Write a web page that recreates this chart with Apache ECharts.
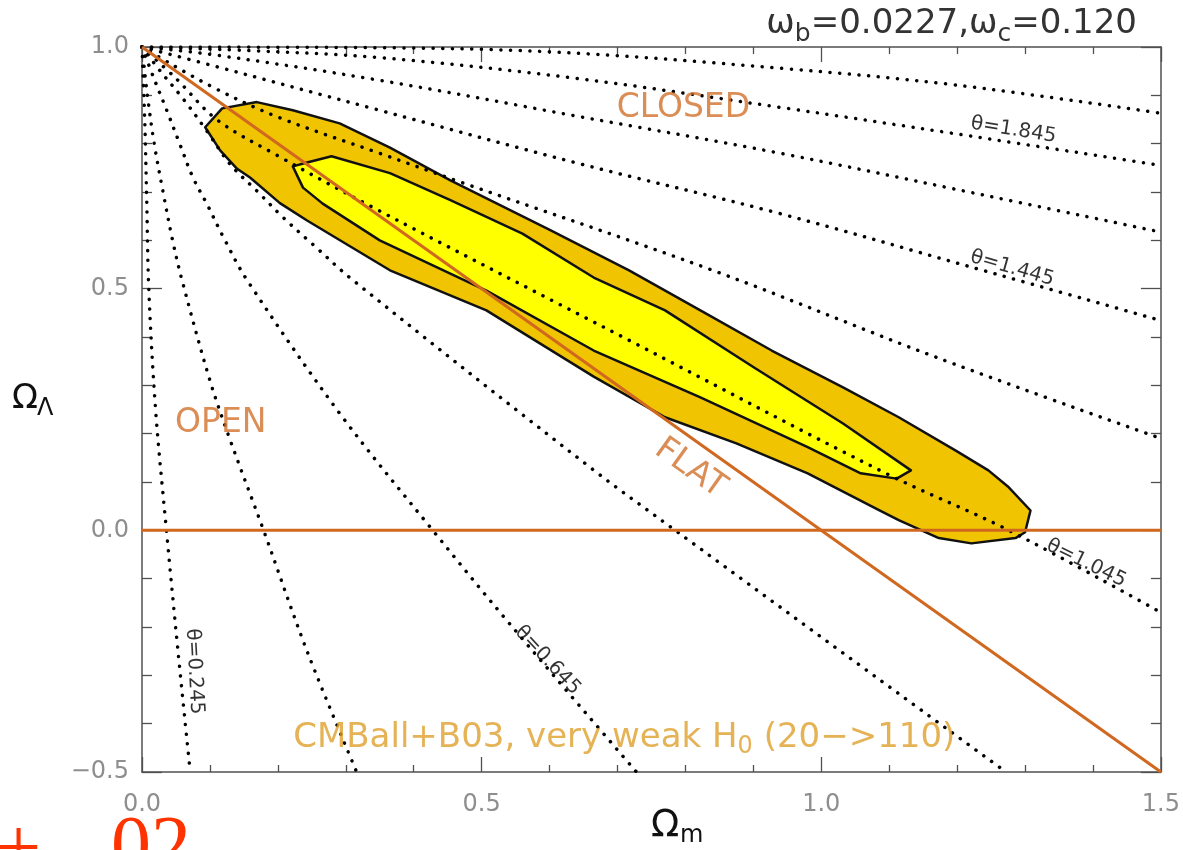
<!DOCTYPE html>
<html>
<head>
<meta charset="utf-8">
<title>Omega_m - Omega_Lambda constraints</title>
<script src="https://cdn.jsdelivr.net/npm/echarts@6/dist/echarts.min.js"></script>
<style>
  html, body { margin: 0; padding: 0; background: #ffffff; }
  #chart { width: 1183px; height: 850px; }
</style>
</head>
<body>
<div id="chart"></div>
<script>
// ---- axis ranges and tick labels ----
const xRange = [0, 1.5];
const yRange = [-0.5, 1.0];
const majorStep = 0.5;
const xTickLabels = ['0.0', '0.5', '1.0', '1.5'];
const yTickLabels = ['\u22120.5', '0.0', '0.5', '1.0'];

// ---- likelihood contours (Omega_m, Omega_Lambda) ----
const outerContour = [
  [0.093, 0.834], [0.118, 0.873], [0.169, 0.886], [0.222, 0.869], [0.291, 0.842],
  [0.365, 0.792], [0.454, 0.724], [0.601, 0.621], [0.717, 0.538], [0.822, 0.455],
  [0.927, 0.372], [1.032, 0.296], [1.114, 0.234], [1.198, 0.165], [1.246, 0.124],
  [1.276, 0.089], [1.308, 0.041], [1.300, -0.004], [1.286, -0.016], [1.221, -0.027],
  [1.173, -0.016], [1.114, 0.021], [1.085, 0.042], [0.980, 0.118], [0.875, 0.180],
  [0.770, 0.234], [0.665, 0.318], [0.507, 0.455], [0.365, 0.538], [0.243, 0.641],
  [0.203, 0.677], [0.159, 0.730], [0.140, 0.748], [0.115, 0.786]
];
const innerContour = [
  [0.222, 0.753], [0.243, 0.761], [0.279, 0.774], [0.365, 0.739], [0.454, 0.683],
  [0.560, 0.614], [0.665, 0.523], [0.770, 0.455], [0.901, 0.337], [1.032, 0.221],
  [1.132, 0.124], [1.111, 0.107], [1.058, 0.118], [0.980, 0.172], [0.822, 0.275],
  [0.665, 0.372], [0.507, 0.496], [0.350, 0.600], [0.266, 0.676], [0.237, 0.709]
];

// ---- curves of constant acoustic angle theta ----
const theta0245 = [[0, 1], [0.004, 0.85], [0.007, 0.68], [0.010, 0.5], [0.020, 0.25], [0.036, 0], [0.053, -0.25], [0.071, -0.5]];
const theta0445 = [[0, 1], [0.008, 0.9], [0.018, 0.8], [0.031, 0.7], [0.045, 0.6], [0.059, 0.517], [0.100, 0.31], [0.130, 0.186], [0.179, 0], [0.243, -0.25], [0.316, -0.5]];
const theta0645 = [[0, 1], [0.017, 0.937], [0.037, 0.867], [0.056, 0.798], [0.075, 0.73], [0.096, 0.674], [0.120, 0.606], [0.155, 0.517], [0.291, 0.242], [0.428, 0], [0.541, -0.193], [0.728, -0.5]];
const theta0845 = [[0, 1], [0.027, 0.95], [0.061, 0.892], [0.096, 0.825], [0.130, 0.757], [0.170, 0.701], [0.208, 0.647], [0.252, 0.591], [0.311, 0.517], [0.659, 0.131], [0.785, 0], [1.272, -0.5]];
const theta1045 = [[0, 1], [0.05, 0.935], [0.11, 0.85], [0.20, 0.775], [0.34, 0.668], [0.72, 0.391], [1.095, 0.118], [1.276, 0], [1.5, -0.17]];
const theta1245 = [[0, 1], [0.10, 0.92], [0.20, 0.855], [0.35, 0.78], [0.47, 0.72], [0.84, 0.538], [1.173, 0.356], [1.5, 0.19]];
const theta1445 = [[0, 1], [0.10, 0.963], [0.35, 0.869], [0.64, 0.76], [0.94, 0.655], [1.22, 0.545], [1.5, 0.434]];
const theta1645 = [[0, 1], [0.10, 0.985], [0.35, 0.931], [0.64, 0.857], [0.94, 0.78], [1.2, 0.705], [1.5, 0.617]];
const theta1845 = [[0, 1], [0.15, 0.993], [0.35, 0.978], [0.64, 0.935], [0.94, 0.875], [1.2, 0.82], [1.5, 0.755]];
const theta2045 = [[0, 1], [0.30, 0.999], [0.60, 0.99], [0.94, 0.956], [1.2, 0.921], [1.5, 0.863]];
const thetaCurves = [theta0245, theta0445, theta0645, theta0845, theta1045, theta1245, theta1445, theta1645, theta1845, theta2045];
const thetaNames = ['0.245', '0.445', '0.645', '0.845', '1.045', '1.245', '1.445', '1.645', '1.845', '2.045'];

// ---- geometry reference lines ----
const flatLine = [[0, 1], [1.5, -0.5]];
const noLambdaLine = [[0, 0], [1.5, 0]];

// ---- annotations anchored in data space ----
const thetaLabelText = ['\u03b8=1.845', '\u03b8=1.445', '\u03b8=1.045', '\u03b8=0.645', '\u03b8=0.245'];
const thetaLabelAt = [[1.283, 0.828], [1.281, 0.542], [1.390, -0.068], [0.597, -0.269], [0.077, -0.292]];
const regionLabelText = ['CLOSED', 'OPEN', 'FLAT'];
const regionLabelAt = [[0.797, 0.8725], [0.116, 0.221], [0.807, 0.128]];
const datasetLabelText = 'CMBall+B03, very weak H{s|0} (20\u2212>110)';
const datasetLabelAt = [0.71, -0.430];

// text rotations (degrees) for the annotations above
const thetaLabelRotate = [-9, -16, -26, -47, -87];
const regionLabelRotate = [0, 0, -35.4];

const chart = echarts.init(document.getElementById('chart'), null, { renderer: 'canvas' });

const AXIS_COLOR = '#505050';
const ORANGE = '#D0681F';
const TEXT_ORANGE = '#D2702C';
const GOLD = '#DFA02C';

function boxAxis(kind, position, showLabels) {
  const isX = kind === 'x';
  const range = isX ? xRange : yRange;
  const labels = isX ? xTickLabels : yTickLabels;
  return {
    type: 'value',
    position: position,
    min: range[0],
    max: range[1],
    interval: majorStep,
    axisLine: { show: true, onZero: false, lineStyle: { color: AXIS_COLOR, width: 1.5 } },
    axisTick: { show: true, inside: true, length: isX ? 15 : 20, lineStyle: { color: AXIS_COLOR, width: 1.3 } },
    minorTick: { show: true, splitNumber: 5, length: isX ? 7 : 10, lineStyle: { color: AXIS_COLOR, width: 1.3 } },
    splitLine: { show: false },
    axisLabel: {
      show: showLabels,
      margin: isX ? 21 : 13,
      color: '#8e8e8e',
      fontSize: 24,
      fontFamily: 'DejaVu Sans',
      formatter: function (v) {
        const idx = Math.round((v - range[0]) / majorStep);
        return labels[idx] !== undefined ? labels[idx] : '';
      }
    }
  };
}

function polygonSeries(name, points, fill, z) {
  return {
    name: name,
    type: 'custom',
    coordinateSystem: 'cartesian2d',
    xAxisIndex: 0,
    yAxisIndex: 0,
    silent: true,
    clip: true,
    z: z,
    data: [points[0]],
    renderItem: function (params, api) {
      return {
        type: 'polygon',
        shape: { points: points.map(function (p) { return api.coord(p); }) },
        style: { fill: fill, stroke: '#111111', lineWidth: 2.5, lineJoin: 'round' }
      };
    }
  };
}

const series = [];
series.push(polygonSeries('95%', outerContour, '#F0C400', 1));
series.push(polygonSeries('68%', innerContour, '#FFFF00', 2));

thetaCurves.forEach(function (curve, i) {
  series.push({
    name: '\u03b8=' + thetaNames[i],
    type: 'line',
    data: curve,
    smooth: 0.35,
    symbol: 'none',
    silent: true,
    z: 3,
    lineStyle: { color: '#000000', width: 3.5, type: [0.1, 9.6], cap: 'round' }
  });
});

[flatLine, noLambdaLine].forEach(function (ln, i) {
  series.push({
    name: i === 0 ? 'flat' : 'lambda0',
    type: 'line',
    data: ln,
    symbol: 'none',
    silent: true,
    z: 4,
    lineStyle: { color: ORANGE, width: 3 }
  });
});

// theta annotations
series.push({
  name: 'theta labels',
  type: 'scatter',
  symbolSize: 1,
  itemStyle: { color: 'rgba(0,0,0,0)' },
  silent: true,
  z: 6,
  data: thetaLabelAt.map(function (p, i) {
    return {
      value: p,
      label: { show: true, position: 'inside', formatter: thetaLabelText[i], rotate: thetaLabelRotate[i] }
    };
  }),
  label: { show: true, color: '#000000', fontSize: 20, fontFamily: 'DejaVu Sans' }
});

// region annotations
series.push({
  name: 'region labels',
  type: 'scatter',
  symbolSize: 1,
  itemStyle: { color: 'rgba(0,0,0,0)' },
  silent: true,
  z: 6,
  data: regionLabelAt.map(function (p, i) {
    return {
      value: p,
      label: { show: true, position: 'inside', formatter: regionLabelText[i], rotate: regionLabelRotate[i] }
    };
  }),
  label: { show: true, color: TEXT_ORANGE, fontSize: 33, fontFamily: 'DejaVu Sans' }
});

// dataset annotation
series.push({
  name: 'dataset label',
  type: 'scatter',
  symbolSize: 1,
  itemStyle: { color: 'rgba(0,0,0,0)' },
  silent: true,
  z: 6,
  data: [{ value: datasetLabelAt }],
  label: {
    show: true,
    position: 'inside',
    formatter: datasetLabelText,
    color: GOLD,
    fontSize: 34,
    fontFamily: 'DejaVu Sans',
    rich: {
      s: { fontSize: 24, color: GOLD, fontFamily: 'DejaVu Sans', padding: [18, 0, 0, 0], verticalAlign: 'middle' }
    }
  }
});

const option = {
  animation: false,
  backgroundColor: '#ffffff',
  title: {
    text: '{m|\u03c9}{s|b}{m|=0.0227,\u03c9}{s|c}{m|=0.120}',
    right: 46,
    top: 2,
    padding: 0,
    textStyle: {
      fontWeight: 'normal',
      rich: {
        m: { fontSize: 34, fontWeight: 'normal', color: '#333333', fontFamily: 'DejaVu Sans', verticalAlign: 'middle' },
        s: { fontSize: 25, fontWeight: 'normal', color: '#333333', fontFamily: 'DejaVu Sans', padding: [20, 0, 0, 0], verticalAlign: 'middle' }
      }
    }
  },
  grid: { left: 142, top: 47, width: 1021, height: 725, containLabel: false },
  xAxis: [boxAxis('x', 'bottom', true), boxAxis('x', 'top', false)],
  yAxis: [boxAxis('y', 'left', true), boxAxis('y', 'right', false)],
  series: series,
  graphic: [
    { type: 'text', left: 651, top: 808, silent: true,
      style: { text: '\u03a9', fontSize: 37, fontFamily: 'DejaVu Sans', fill: '#111111' } },
    { type: 'text', left: 680, top: 824, silent: true,
      style: { text: 'm', fontSize: 24, fontFamily: 'DejaVu Sans', fill: '#111111' } },
    { type: 'text', left: 12, top: 382, silent: true,
      style: { text: '\u03a9', fontSize: 34, fontFamily: 'DejaVu Sans', fill: '#111111' } },
    { type: 'text', left: 37, top: 397, silent: true,
      style: { text: '\u039b', fontSize: 24, fontFamily: 'DejaVu Sans', fill: '#111111' } },
    { type: 'text', left: -4, top: 813, silent: true,
      style: { text: '+', fontSize: 80, fontFamily: 'Liberation Serif', fill: '#FF3300' } },
    { type: 'text', left: 111, top: 810, silent: true,
      style: { text: '02', fontSize: 80, fontFamily: 'Liberation Serif', fill: '#FF3300' } }
  ]
};

chart.setOption(option);
</script>
</body>
</html>
